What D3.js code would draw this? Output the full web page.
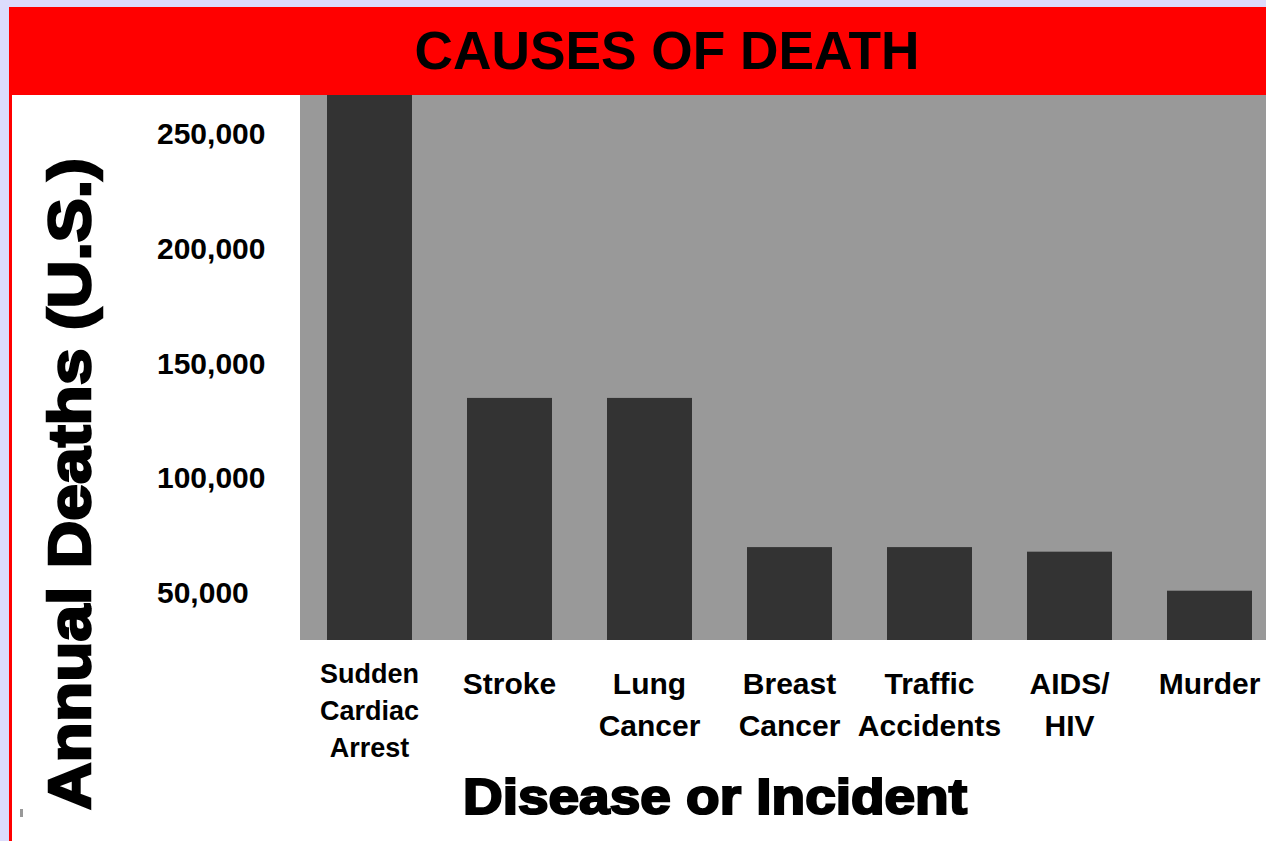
<!DOCTYPE html>
<html>
<head>
<meta charset="utf-8">
<script src="https://cdn.jsdelivr.net/npm/d3@7/dist/d3.min.js"></script>
<style>
  html, body { margin: 0; padding: 0; background: #dcdcfc; }
  svg { display: block; }
  text { font-family: "Liberation Sans", Arial, sans-serif; font-weight: bold; fill: #000; }
</style>
</head>
<body>
<script>
// ---- data ----
const categories = ["Sudden Cardiac Arrest", "Stroke", "Lung Cancer", "Breast Cancer", "Traffic Accidents", "AIDS/ HIV", "Murder"];
const categoryLines = [["Sudden", "Cardiac", "Arrest"], ["Stroke"], ["Lung", "Cancer"], ["Breast", "Cancer"], ["Traffic", "Accidents"], ["AIDS/", "HIV"], ["Murder"]];
const deaths = [325000, 135000, 135000, 70000, 70000, 68000, 51000];
const yTicks = [50000, 100000, 150000, 200000, 250000];
const tickLabels = ["50,000", "100,000", "150,000", "200,000", "250,000"];
const title = "CAUSES OF DEATH";
const xTitle = "Disease or Incident";
const yTitle = "Annual Deaths (U.S.)";

const W = 1266, H = 841;
const plot = { left: 300, right: 1266, top: 95, bottom: 640 };

const svg = d3.select("body").append("svg").attr("width", W).attr("height", H);

// background frame
svg.append("rect").attr("x", 0).attr("y", 0).attr("width", W).attr("height", H).attr("fill", "#dcdcfc");
svg.append("rect").attr("x", 9).attr("y", 7).attr("width", W - 9).attr("height", 88).attr("fill", "#ff0000");
svg.append("rect").attr("x", 9).attr("y", 95).attr("width", 3).attr("height", H - 95).attr("fill", "#ff0000");
svg.append("rect").attr("x", 12).attr("y", 95).attr("width", W - 12).attr("height", H - 95).attr("fill", "#ffffff");
svg.append("rect").attr("x", 20).attr("y", 809).attr("width", 3).attr("height", 8).attr("fill", "#999");

// title
svg.append("text").attr("x", 667).attr("y", 69).attr("text-anchor", "middle")
  .attr("font-size", 53).attr("textLength", 505).attr("lengthAdjust", "spacingAndGlyphs")
  .text(title);

// scales
const x = d3.scaleBand().domain(categories).range([300, 1279]).paddingInner(55 / 140).paddingOuter(27 / 140);
const y = d3.scaleLinear().domain([50000, 250000]).range([593, 134]);

// plot background
svg.append("rect").attr("x", plot.left).attr("y", plot.top)
  .attr("width", plot.right - plot.left).attr("height", plot.bottom - plot.top).attr("fill", "#999999");

svg.append("clipPath").attr("id", "clip").append("rect")
  .attr("x", plot.left).attr("y", plot.top).attr("width", plot.right - plot.left).attr("height", plot.bottom - plot.top);

// bars
svg.append("g").attr("clip-path", "url(#clip)")
  .selectAll("rect").data(categories).join("rect")
  .attr("x", d => x(d))
  .attr("width", x.bandwidth())
  .attr("y", (d, i) => y(deaths[i]))
  .attr("height", (d, i) => plot.bottom - y(deaths[i]))
  .attr("fill", "#333333");

// y axis
const yAxis = svg.append("g").attr("transform", `translate(${plot.left},0)`)
  .call(d3.axisLeft(y).tickValues(yTicks).tickSize(0).tickFormat((d, i) => tickLabels[i]));
yAxis.select(".domain").remove();
yAxis.selectAll("text").attr("x", 157 - plot.left).attr("text-anchor", "start")
  .attr("font-size", 30).attr("fill", "#000").style("font-family", '"Liberation Sans", Arial, sans-serif').style("font-weight", "bold");

// x axis
const xAxis = svg.append("g").attr("transform", `translate(0,${plot.bottom})`)
  .call(d3.axisBottom(x).tickSize(0));
xAxis.select(".domain").remove();
xAxis.selectAll("text").each(function (d, i) {
  const t = d3.select(this);
  const lines = categoryLines[i];
  const small = lines.length === 3;
  t.text(null).attr("y", 0).attr("dy", null).attr("fill", "#000")
    .attr("font-size", small ? 27 : 30)
    .style("font-family", '"Liberation Sans", Arial, sans-serif').style("font-weight", "bold");
  lines.forEach((ln, j) => {
    t.append("tspan").attr("x", 0)
      .attr("y", small ? 43 + j * 37 : 54 + j * 42)
      .text(ln);
  });
});

// axis titles
svg.append("text").attr("x", 715).attr("y", 814).attr("text-anchor", "middle")
  .attr("font-size", 50).attr("stroke", "#000").attr("stroke-width", 2.2)
  .attr("textLength", 504).attr("lengthAdjust", "spacingAndGlyphs")
  .text(xTitle);

svg.append("text").attr("transform", "translate(90,484) rotate(-90)").attr("text-anchor", "middle")
  .attr("font-size", 59).attr("stroke", "#000").attr("stroke-width", 2.5)
  .attr("textLength", 652).attr("lengthAdjust", "spacingAndGlyphs")
  .text(yTitle);
</script>
</body>
</html>
